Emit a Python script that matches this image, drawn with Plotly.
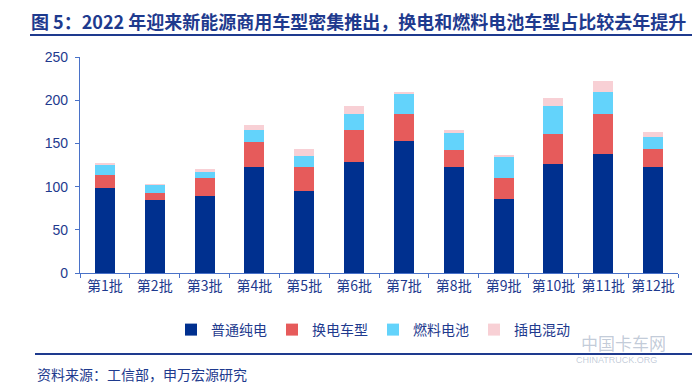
import plotly.graph_objects as go

categories = ["第1批", "第2批", "第3批", "第4批", "第5批", "第6批",
              "第7批", "第8批", "第9批", "第10批", "第11批", "第12批"]
pure_ev = [98, 84, 89, 123, 95, 128, 153, 123, 86, 126, 138, 123]
swap_ev = [15, 9, 21, 29, 28, 38, 31, 19, 24, 35, 46, 21]
fuel_cell = [13, 9, 7, 14, 13, 18, 24, 20, 25, 32, 25, 13]
phev = [1.5, 1, 3, 5, 8, 9, 2, 4, 2, 10, 13, 6]

series_names = ["普通纯电", "换电车型", "燃料电池", "插电混动"]
series_vals = [pure_ev, swap_ev, fuel_cell, phev]
colors = ["#00308F", "#E65B5B", "#63D3FB", "#F8D0D5"]

title_text = "图 5：2022 年迎来新能源商用车型密集推出，换电和燃料电池车型占比较去年提升"
source_text = "资料来源：工信部，申万宏源研究"

NAVY = "#1E3A8E"
AXIS = "#4A72C8"
FONT = "Noto Sans CJK SC"

fig = go.Figure()
for name, vals, c in zip(series_names, series_vals, colors):
    fig.add_trace(go.Bar(x=categories, y=vals, name=name, marker_color=c,
                         marker_line_width=0))

# plot area in pixels: x 72..670, y 49..265
L, R, T, B = 72, 670, 49, 265
W, H = R - L, B - T
def px(p):
    return (p - L) / W
def py(q):
    return (B - q) / H

fig.update_layout(
    width=700, height=388,
    margin=dict(l=L, r=700 - R, t=T, b=388 - B),
    barmode="stack", bargap=0.6,
    paper_bgcolor="white", plot_bgcolor="white",
    font=dict(family=FONT, color=NAVY, size=13),
    showlegend=True,
    legend=dict(orientation="h", x=0.49, xanchor="center", y=py(322), yanchor="middle",
                font=dict(size=14, color=NAVY, family=FONT), itemwidth=30,
                traceorder="normal", bgcolor="rgba(0,0,0,0)"),
    xaxis=dict(showline=True, linecolor=AXIS, linewidth=1.2, ticks="outside",
               tickson="boundaries", ticklen=4, tickcolor=AXIS, tickangle=0,
               tickfont=dict(size=14, color=NAVY, family=FONT), showgrid=False,
               fixedrange=True),
    yaxis=dict(range=[0, 250], dtick=50, showline=True, linecolor=AXIS, linewidth=1.2,
               ticks="outside", ticklen=4, tickcolor=AXIS, showgrid=False,
               ticklabelstandoff=4,
               zeroline=False, tickfont=dict(size=14, color=NAVY, family="Liberation Sans")),
)

fig.add_annotation(text="<b>" + title_text + "</b>", xref="paper", yref="paper",
                   x=px(21), y=py(13), xanchor="left", yanchor="middle", showarrow=False,
                   font=dict(size=18, color=NAVY, family=FONT))
fig.add_shape(type="line", xref="paper", yref="paper", x0=px(22), x1=px(700),
              y0=py(27), y1=py(27), line=dict(color=NAVY, width=2))
fig.add_shape(type="line", xref="paper", yref="paper", x0=px(27), x1=px(700),
              y0=py(346), y1=py(346), line=dict(color=NAVY, width=2))
fig.add_annotation(text=source_text, xref="paper", yref="paper",
                   x=px(27), y=py(366), xanchor="left", yanchor="middle", showarrow=False,
                   font=dict(size=14, color=NAVY, family=FONT))
# watermark
fig.add_annotation(text="中国卡车网", xref="paper", yref="paper",
                   x=px(615), y=py(334), xanchor="center", yanchor="middle", showarrow=False,
                   font=dict(size=17, color="rgba(120,140,170,0.45)", family=FONT))
fig.add_annotation(text="CHINATRUCK.ORG", xref="paper", yref="paper",
                   x=px(608), y=py(352), xanchor="center", yanchor="middle", showarrow=False,
                   font=dict(size=9, color="rgba(120,140,170,0.45)", family="Liberation Sans"))

fig.write_html("out.html")
